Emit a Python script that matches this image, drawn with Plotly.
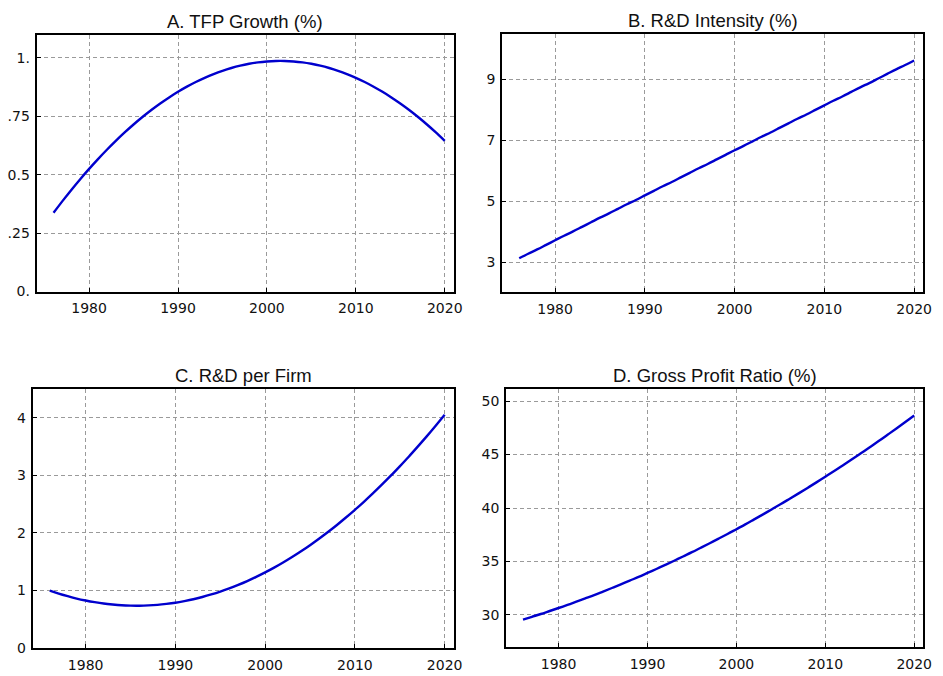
import plotly.graph_objects as go

years = list(range(1976, 2021))

tfp_growth = [0.337, 0.387, 0.435, 0.481, 0.525, 0.567, 0.607, 0.645, 0.681, 0.715,
              0.747, 0.777, 0.805, 0.831, 0.855, 0.877, 0.897, 0.915, 0.931, 0.945,
              0.957, 0.967, 0.975, 0.981, 0.985, 0.987, 0.987, 0.985, 0.981, 0.975,
              0.967, 0.957, 0.945, 0.931, 0.915, 0.897, 0.877, 0.855, 0.831, 0.805,
              0.777, 0.747, 0.715, 0.681, 0.645]

rd_intensity = [3.14, 3.29, 3.43, 3.58, 3.73, 3.88, 4.02, 4.17, 4.32, 4.47,
                4.61, 4.76, 4.91, 5.05, 5.20, 5.35, 5.50, 5.64, 5.79, 5.94,
                6.09, 6.23, 6.38, 6.53, 6.68, 6.82, 6.97, 7.12, 7.26, 7.41,
                7.56, 7.71, 7.85, 8.00, 8.15, 8.30, 8.44, 8.59, 8.74, 8.88,
                9.03, 9.18, 9.33, 9.47, 9.62]

rd_per_firm = [1.000, 0.948, 0.903, 0.862, 0.828, 0.799, 0.775, 0.758, 0.745, 0.739,
               0.738, 0.743, 0.753, 0.769, 0.790, 0.818, 0.850, 0.889, 0.933, 0.982,
               1.038, 1.099, 1.165, 1.237, 1.315, 1.398, 1.487, 1.582, 1.682, 1.788,
               1.900, 2.017, 2.139, 2.268, 2.402, 2.541, 2.686, 2.837, 2.993, 3.156,
               3.323, 3.497, 3.675, 3.860, 4.050]

gross_profit = [29.57, 29.83, 30.09, 30.37, 30.65, 30.94, 31.24, 31.55, 31.86, 32.19,
                32.52, 32.86, 33.21, 33.56, 33.93, 34.30, 34.68, 35.07, 35.47, 35.87,
                36.29, 36.71, 37.14, 37.57, 38.02, 38.47, 38.94, 39.41, 39.89, 40.37,
                40.87, 41.37, 41.88, 42.40, 42.93, 43.46, 44.01, 44.56, 45.12, 45.69,
                46.26, 46.85, 47.44, 48.04, 48.65]

titles = ["A. TFP Growth (%)", "B. R&D Intensity (%)", "C. R&D per Firm", "D. Gross Profit Ratio (%)"]
x_ticks = [1980, 1990, 2000, 2010, 2020]
a_tickvals = [0, 0.25, 0.5, 0.75, 1.0]
a_ticktext = ["0.", ".25", "0.5", ".75", "1."]
b_tickvals = [3, 5, 7, 9]
c_tickvals = [0, 1, 2, 3, 4]
d_tickvals = [30, 35, 40, 45, 50]

W, H = 943, 676
def px_x(a, b):
    return [a / W, b / W]
def px_y(top, bottom):
    return [1 - bottom / H, 1 - top / H]

panels = [
    dict(data=tfp_growth, xd=px_x(37, 458), yd=px_y(35, 295), yr=[0, 1.1],
         tv=a_tickvals, tt=a_ticktext),
    dict(data=rd_intensity, xd=px_x(507, 932), yd=px_y(34, 296), yr=[2.02, 10.5],
         tv=b_tickvals, tt=[str(v) for v in b_tickvals]),
    dict(data=rd_per_firm, xd=px_x(33, 458), yd=px_y(393.5, 656), yr=[0, 4.5],
         tv=c_tickvals, tt=[str(v) for v in c_tickvals]),
    dict(data=gross_profit, xd=px_x(511, 932), yd=px_y(394, 655), yr=[26.98, 51.1],
         tv=d_tickvals, tt=[str(v) for v in d_tickvals]),
]

fig = go.Figure()
layout = dict(
    width=W, height=H, margin=dict(l=0, r=0, t=0, b=0),
    paper_bgcolor="white", plot_bgcolor="white", showlegend=False,
    font=dict(family="DejaVu Sans", size=14, color="#111111"),
)
annotations = []
for i, p in enumerate(panels):
    n = "" if i == 0 else str(i + 1)
    fig.add_trace(go.Scatter(x=years, y=p["data"], mode="lines",
                             line=dict(color="#0000CD", width=2.4, shape="spline"),
                             xaxis="x" + n, yaxis="y" + n, hoverinfo="skip"))
    common = dict(showline=True, mirror=True, linecolor="black", linewidth=2,
                  showgrid=True, gridcolor="#9a9a9a", gridwidth=1, griddash="4px,3px",
                  ticks="inside", ticklen=4, tickcolor="black", tickwidth=1,
                  zeroline=False, tickfont=dict(family="DejaVu Sans", size=14, color="#111111"))
    layout["xaxis" + n] = dict(domain=p["xd"], anchor="y" + n, range=[1974.1, 2021.0],
                               tickvals=x_ticks, ticklabelstandoff=3, **common)
    layout["yaxis" + n] = dict(domain=p["yd"], anchor="x" + n, range=p["yr"],
                               tickvals=p["tv"], ticktext=p["tt"], ticklabelstandoff=2, **common)
    annotations.append(dict(text=titles[i], x=(p["xd"][0] + p["xd"][1]) / 2, y=p["yd"][1],
                            xref="paper", yref="paper", xanchor="center", yanchor="bottom",
                            yshift=1, showarrow=False,
                            font=dict(family="Liberation Sans, Arial", size=18.5, color="#111111")))
layout["annotations"] = annotations
fig.update_layout(**layout)
fig.write_html("out.html", config={"displayModeBar": False},
               post_script="document.body.style.margin='0';document.body.style.overflow='hidden';")
